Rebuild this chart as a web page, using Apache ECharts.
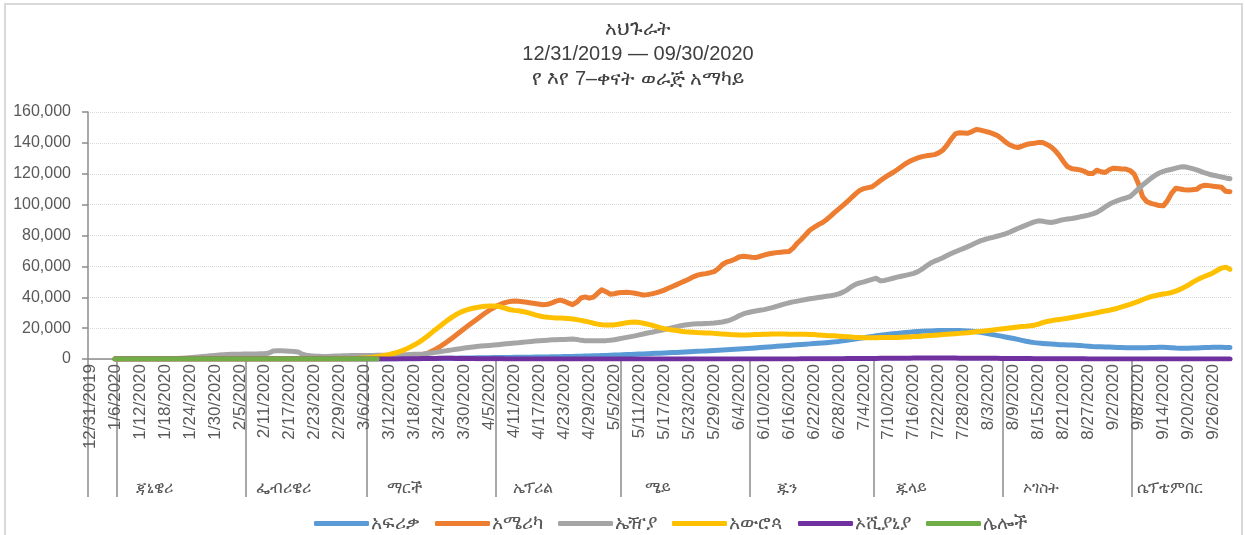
<!DOCTYPE html>
<html>
<head>
<meta charset="utf-8">
<title>አህጉራት</title>
<script src="https://cdn.jsdelivr.net/npm/echarts@6/dist/echarts.min.js"></script>
<style>
    html, body { margin: 0; padding: 0; background: #fff; }
    #chart { width: 1245px; height: 535px; }
</style>
</head>
<body>
<div id="chart"></div>
<script>
// categories: one per day, 12/31/2019 .. 9/30/2020 (plus the closing edge for the month band)
const firstDay = Date.UTC(2019, 11, 31);
const dayEdges = [];
for (let i = 0; i < 276; i++) {
    const d = new Date(firstDay + i * 86400000);
    dayEdges.push((d.getUTCMonth() + 1) + '/' + d.getUTCDate() + '/' + d.getUTCFullYear());
}
const days = dayEdges.slice(0, 275);

// month groups of the lower axis band
const monthNames = ['ጃኒዌሪ', 'ፌብሪዌሪ', 'ማርች', 'ኤፕሪል', 'ሜይ', 'ጁን', 'ጁላይ', 'ኦገስት', 'ሴፕቴምበር'];
const monthStarts = ['1/7/2020', '2/7/2020', '3/7/2020', '4/7/2020', '5/7/2020', '6/7/2020', '7/7/2020', '8/7/2020', '9/7/2020'];

const seriesNames = ['አፍሪቃ', 'አሜሪካ', 'ኤዥያ', 'አውሮጳ', 'ኦሺያኒያ', 'ሌሎች'];
const seriesColors = ['#5B9BD5', '#ED7D31', '#A5A5A5', '#FFC000', '#7030A0', '#70AD47'];

const yTicks = [0, 20000, 40000, 60000, 80000, 100000, 120000, 140000, 160000];

// 7-day averages, in thousands of cases, one value per day
const africa = [null,null,null,null,null,null,
    0,0,0,0,0,0,0,0,0,0,
    0,0,0,0,0,0,0,0,0,0,
    0,0,0,0,0,0,0,0,0,0,
    0,0,0,0,0,0,0,0,0,0,
    0,0,0,0,0,0,0,0,0,0,
    0,0,0,0,0,
    0.0,0.01,0.01,0.01,0.02,0.02,0.03,0.03,0.04,0.05,
    0.06,0.07,0.08,0.1,0.12,0.14,0.17,0.2,0.23,0.26,
    0.3,0.33,0.36,0.39,0.42,0.46,0.5,0.54,0.58,0.62,
    0.66,0.7,0.74,0.78,0.82,0.86,0.9,0.94,0.98,1.0,
    1.03,1.06,1.1,1.13,1.17,1.2,1.24,1.28,1.32,1.36,
    1.4,1.45,1.5,1.56,1.62,1.68,1.75,1.82,1.9,1.98,
    2.06,2.15,2.24,2.33,2.43,2.53,2.63,2.74,2.85,2.96,
    3.08,3.2,3.32,3.44,3.56,3.68,3.8,3.92,4.04,4.16,
    4.28,4.4,4.53,4.66,4.8,4.95,5.1,5.25,5.4,5.55,
    5.7,5.85,6.0,6.15,6.3,6.45,6.6,6.8,7.0,7.2,
    7.4,7.6,7.8,8.0,8.2,8.4,8.6,8.8,9.0,9.2,
    9.4,9.6,9.8,10.0,10.2,10.4,10.6,10.8,11.1,11.4,
    11.8,12.2,12.6,13.0,13.4,13.8,14.2,14.6,15.0,15.4,
    15.7,16.0,16.3,16.6,16.9,17.2,17.4,17.6,17.8,18.0,
    18.1,18.2,18.3,18.4,18.4,18.5,18.5,18.5,18.4,18.3,
    18.2,18.0,17.7,17.3,16.8,16.3,15.8,15.3,14.8,14.3,
    13.8,13.3,12.7,12.1,11.5,11.0,10.6,10.3,10.1,9.9,
    9.7,9.5,9.3,9.2,9.1,9.0,8.9,8.7,8.5,8.3,
    8.1,8.0,7.9,7.8,7.7,7.6,7.5,7.4,7.3,7.3,
    7.3,7.3,7.3,7.3,7.4,7.5,7.6,7.6,7.5,7.3,
    7.1,7.0,7.0,7.0,7.1,7.2,7.3,7.4,7.5,7.6,
    7.6,7.6,7.5,7.5];

const america = [null,null,null,null,null,null,
    0,0,0,0,0,0,0,0,0,0,
    0,0,0,0,0,0,0,0,0,0,
    0,0,0,0,0,0,0,0,0,0,
    0,0,0,0,0,0,0,0,0,0,
    0.01,0.01,0.01,0.01,0.01,0.01,0.01,0.01,0.01,0.01,
    0.01,0.01,0.01,0.01,0.01,
    0.02,0.02,0.03,0.04,0.05,0.07,0.09,0.12,0.16,0.22,
    0.3,0.4,0.5,0.6,0.8,1.0,1.3,1.7,2.1,2.7,
    3.6,4.8,6.2,7.8,9.6,11.5,13.5,15.6,17.7,19.8,
    21.8,23.8,25.8,27.8,29.8,31.6,33.2,34.6,35.8,36.7,
    37.3,37.6,37.4,37.1,36.7,36.3,35.9,35.5,35.1,35.4,
    36.3,37.5,38.1,37.4,36.2,35.2,36.8,39.5,40.2,39.4,
    40.1,42.5,44.9,43.6,42.0,42.3,42.9,43.1,43.2,43.0,
    42.6,42.0,41.5,41.7,42.2,42.8,43.6,44.6,45.8,47.0,
    48.2,49.4,50.6,51.9,53.2,54.3,54.9,55.3,55.9,56.6,
    58.5,61.2,62.8,63.6,64.6,66.1,66.6,66.3,65.9,65.7,
    66.4,67.3,68.0,68.5,68.9,69.2,69.4,69.6,71.8,75.0,
    77.6,80.5,83.4,85.2,86.9,88.2,90.2,92.5,95.0,97.3,
    99.5,101.9,104.5,107.0,109.2,110.4,111.0,111.6,113.5,115.6,
    117.5,119.2,120.8,122.6,124.5,126.5,128.0,129.2,130.3,131.1,
    131.6,132.0,132.4,133.5,135.3,138.5,142.5,145.8,146.6,146.4,
    146.2,147.3,148.6,148.3,147.6,146.9,146.0,144.9,143.0,140.6,
    138.8,137.6,137.0,137.8,138.9,139.4,139.7,140.3,140.2,139.0,
    137.4,135.0,131.8,127.8,124.5,123.3,122.9,122.5,121.6,120.2,
    120.1,122.3,121.3,120.8,122.6,123.6,123.4,123.1,123.0,122.1,
    119.8,113.5,105.2,102.0,100.8,100.2,99.4,99.2,102.6,107.5,
    110.6,110.1,109.6,109.5,109.7,109.9,111.8,112.6,112.3,111.9,
    111.6,111.2,108.6,108.4];

const asia = [null,null,null,null,null,null,
    0,0,0,0,0,0,0,0,0,0,
    0.02,0.04,0.08,0.14,0.22,0.33,0.47,0.65,0.87,1.1,
    1.35,1.6,1.85,2.1,2.35,2.55,2.75,2.9,3.0,3.1,
    3.15,3.2,3.2,3.25,3.3,3.35,3.4,3.9,5.2,5.4,
    5.3,5.2,5.1,4.9,4.6,3.1,2.5,2.1,1.9,1.8,
    1.7,1.7,1.8,1.9,2.0,2.1,2.1,2.2,2.2,2.2,
    2.3,2.3,2.3,2.4,2.4,2.4,2.5,2.5,2.6,2.7,
    2.8,2.9,3.0,3.1,3.3,3.6,3.9,4.3,4.7,5.1,
    5.5,5.9,6.3,6.7,7.1,7.5,7.8,8.1,8.4,8.6,
    8.8,9.0,9.3,9.6,9.9,10.1,10.3,10.5,10.8,11.1,
    11.4,11.6,11.8,12.0,12.2,12.4,12.5,12.6,12.7,12.8,
    12.9,12.7,12.1,11.8,11.8,11.8,11.9,11.9,11.9,12.1,
    12.5,13.0,13.5,14.0,14.5,15.0,15.6,16.2,16.8,17.3,
    17.9,18.5,19.1,19.7,20.3,20.9,21.5,22.0,22.4,22.6,
    22.8,22.9,23.0,23.1,23.3,23.6,24.0,24.6,25.4,26.6,
    28.0,29.2,30.0,30.6,31.1,31.6,32.0,32.6,33.3,34.1,
    34.9,35.7,36.4,37.0,37.5,38.0,38.5,39.0,39.4,39.8,
    40.2,40.6,41.0,41.5,42.2,43.3,44.8,46.8,48.3,49.3,
    50.0,50.8,51.6,52.3,50.6,50.9,51.6,52.3,53.0,53.6,
    54.2,54.8,55.5,56.6,58.2,60.2,62.0,63.4,64.4,65.6,
    67.0,68.3,69.5,70.6,71.7,72.8,74.0,75.3,76.5,77.4,
    78.1,78.8,79.5,80.2,81.1,82.1,83.3,84.5,85.6,86.7,
    87.8,88.8,89.5,89.3,88.7,88.4,88.9,89.7,90.3,90.7,
    91.0,91.5,92.1,92.6,93.2,94.0,95.0,96.6,98.5,100.2,
    101.5,102.6,103.5,104.3,105.2,107.6,110.2,112.6,114.8,117.0,
    118.9,120.5,121.5,122.3,122.9,123.6,124.3,124.5,124.0,123.3,
    122.5,121.5,120.5,119.7,119.0,118.5,117.9,117.3,116.8];

const europe = [null,null,null,null,null,null,
    0,0,0,0,0,0,0,0,0,0,
    0,0,0,0,0,0,0,0,0,0,
    0,0,0,0,0,0,0,0,0,0,
    0,0,0,0,0,0,0,0,0,0,
    0,0,0,0,0,0,0,0,0,0,
    0.02,0.04,0.06,0.09,0.13,0.18,0.24,0.31,0.4,0.5,
    0.65,0.85,1.1,1.45,1.9,2.4,3.0,3.7,4.5,5.4,
    6.5,7.8,9.2,10.8,12.6,14.6,16.8,19.0,21.1,23.2,
    25.2,27.1,28.8,30.2,31.3,32.2,32.9,33.4,33.8,34.1,
    34.3,34.4,34.2,33.5,32.7,31.9,31.5,31.2,30.8,30.2,
    29.4,28.6,27.9,27.4,27.0,26.8,26.6,26.5,26.4,26.2,
    25.9,25.5,25.0,24.5,23.9,23.2,22.6,22.2,22.0,22.0,
    22.1,22.5,23.0,23.5,23.8,23.9,23.7,23.2,22.6,21.9,
    21.1,20.3,19.7,19.2,18.8,18.4,18.0,17.7,17.5,17.3,
    17.1,17.0,16.9,16.8,16.6,16.4,16.2,16.0,15.8,15.7,
    15.6,15.6,15.6,15.7,15.8,15.9,16.0,16.1,16.2,16.2,
    16.2,16.2,16.1,16.1,16.0,16.0,16.0,15.9,15.8,15.6,
    15.4,15.2,15.1,15.0,14.8,14.6,14.4,14.2,14.0,13.9,
    13.8,13.8,13.8,13.8,13.9,13.9,14.0,14.0,14.0,14.1,
    14.2,14.3,14.5,14.6,14.8,15.0,15.2,15.4,15.6,15.8,
    16.0,16.2,16.4,16.6,16.8,17.0,17.3,17.6,17.9,18.2,
    18.5,18.8,19.2,19.5,19.8,20.1,20.4,20.7,21.0,21.2,
    21.5,21.9,22.6,23.6,24.3,24.8,25.2,25.6,26.0,26.4,
    26.9,27.4,27.9,28.4,28.9,29.4,30.0,30.6,31.1,31.6,
    32.2,32.9,33.7,34.6,35.4,36.3,37.3,38.4,39.5,40.4,
    41.0,41.6,42.1,42.5,43.1,44.0,45.1,46.4,47.9,49.6,
    51.1,52.5,53.6,54.6,55.9,57.5,58.9,59.5,58.1];

const oceania = [null,null,null,null,null,null,
    0,0,0,0,0,0,0,0,0,0,
    0,0,0,0,0,0,0,0,0,0,
    0,0,0,0,0,0,0,0,0,0,
    0,0,0,0,0,0,0,0,0,0,
    0,0,0,0,0,0,0,0,0,0,
    0,0,0,0,0,
    0,0,0.01,0.01,0.01,0.01,0.02,0.02,0.02,0.03,
    0.04,0.05,0.06,0.08,0.1,0.13,0.16,0.2,0.24,0.28,
    0.32,0.36,0.39,0.41,0.42,0.42,0.41,0.39,0.36,0.33,
    0.3,0.27,0.24,0.21,0.18,0.15,0.13,0.11,0.09,0.08,
    0.07,0.06,0.05,0.04,0.04,0.03,0.03,0.03,0.02,0.02,
    0.02,0.02,0.02,0.02,0.02,0.02,0.02,0.02,0.02,0.02,
    0.02,0.02,0.02,0.02,0.02,0.02,0.02,0.02,0.02,0.02,
    0.02,0.02,0.02,0.02,0.02,0.02,0.02,0.02,0.02,0.02,
    0.02,0.02,0.02,0.02,0.02,0.02,0.02,0.02,0.02,0.02,
    0.02,0.02,0.02,0.02,0.02,0.02,0.02,0.02,0.02,0.03,
    0.03,0.03,0.03,0.04,0.04,0.05,0.05,0.06,0.07,0.08,
    0.09,0.1,0.11,0.12,0.13,0.14,0.16,0.18,0.2,0.22,
    0.24,0.26,0.28,0.3,0.32,0.34,0.36,0.38,0.4,0.42,
    0.44,0.46,0.48,0.5,0.52,0.54,0.56,0.58,0.6,0.6,
    0.6,0.6,0.6,0.6,0.6,0.59,0.58,0.57,0.56,0.55,
    0.54,0.53,0.52,0.5,0.48,0.46,0.44,0.42,0.4,0.38,
    0.36,0.34,0.32,0.3,0.28,0.26,0.24,0.22,0.2,0.18,
    0.17,0.16,0.15,0.14,0.13,0.12,0.11,0.1,0.09,0.08,
    0.08,0.07,0.07,0.06,0.06,0.05,0.05,0.05,0.04,0.04,
    0.04,0.04,0.04,0.03,0.03,0.03,0.03,0.03,0.03,0.03,
    0.03,0.03,0.03,0.03,0.03,0.03,0.03,0.03,0.03,0.03,
    0.03,0.03,0.03,0.03];

// cruise-ship cases, reported only until early March
const others = [null,null,null,null,null,null,
    0,0,0,0,0,0,0,0,0,0,
    0,0,0,0,0,0,0,0,0,0,
    0,0,0,0,0,0,0,0,0,0,
    0.001,0.003,0.005,0.008,0.01,0.015,0.02,0.03,0.04,0.05,
    0.06,0.07,0.08,0.07,0.06,0.05,0.04,0.03,0.02,0.01,
    0.01,0.01,0.005,0.005,0.003,0.002,0.001,0.001,0.001,0.001,
    0.001,0,0,0];

const FONT = "'Liberation Sans', Arial, 'Noto Sans', sans-serif";
const GREY_TEXT = '#595959';
const AXIS_GREY = '#8C8C8C';

const toCases = arr => arr.map(v => (v === null ? null : Math.round(v * 1000)));
const allSeries = [africa, america, asia, europe, oceania, others];

const startIdx = monthStarts.map(s => dayEdges.indexOf(s));
const labelIdx = startIdx.map(i => i + 9);

const chart = echarts.init(document.getElementById('chart'), null, {renderer: 'canvas'});
chart.setOption({
    animation: false,
    backgroundColor: '#fff',
    textStyle: {fontFamily: FONT},
    graphic: [{
        type: 'rect',
        silent: true,
        z: -10,
        shape: {x: 5, y: 4, width: 1237, height: 545},
        style: {fill: 'none', stroke: '#D9D9D9', lineWidth: 2}
    }],
    title: {
        text: 'አህጉራት\n12/31/2019 — 09/30/2020\nየ እየ 7–ቀናት ወራጅ አማካይ',
        left: 633,
        textAlign: 'center',
        top: 12,
        textStyle: {
            fontFamily: FONT,
            fontSize: 20,
            lineHeight: 25,
            fontWeight: 'normal',
            color: '#404040'
        }
    },
    legend: {
        top: 509,
        left: 309,
        icon: 'roundRect',
        itemWidth: 55,
        itemHeight: 5,
        itemGap: 15,
        data: seriesNames,
        textStyle: {fontFamily: FONT, fontSize: 19, color: GREY_TEXT, padding: [0, 0, 0, -3]}
    },
    grid: {
        left: 88,
        right: 13,
        top: 112,
        bottom: 176,
        containLabel: false
    },
    xAxis: [{
        type: 'category',
        data: days,
        boundaryGap: true,
        axisLine: {lineStyle: {color: AXIS_GREY, width: 1.5}},
        axisTick: {show: false},
        axisLabel: {
            interval: 5,
            rotate: 90,
            margin: 5,
            fontFamily: FONT,
            fontSize: 17,
            color: GREY_TEXT
        },
        splitLine: {show: false}
    }, {
        type: 'category',
        data: dayEdges,
        boundaryGap: false,
        position: 'bottom',
        axisLine: {show: false},
        axisTick: {
            show: true,
            length: 138,
            interval: (i) => i === 0 || startIdx.indexOf(i) >= 0,
            lineStyle: {color: AXIS_GREY, width: 1.5}
        },
        axisLabel: {
            interval: (i) => labelIdx.indexOf(i) >= 0,
            formatter: (v, i) => monthNames[labelIdx.indexOf(i)] || '',
            margin: 122,
            fontFamily: FONT,
            fontSize: 16,
            color: GREY_TEXT
        },
        splitLine: {show: false}
    }],
    yAxis: {
        type: 'value',
        min: yTicks[0],
        max: yTicks[yTicks.length - 1],
        interval: yTicks[1] - yTicks[0],
        axisLine: {show: true, lineStyle: {color: AXIS_GREY, width: 1.5}},
        axisTick: {show: true, length: 6, lineStyle: {color: AXIS_GREY, width: 1.5}},
        axisLabel: {
            margin: 17,
            fontFamily: FONT,
            fontSize: 16,
            color: GREY_TEXT,
            formatter: v => v.toLocaleString('en-US')
        },
        splitLine: {lineStyle: {color: '#D9D9D9', type: 'dotted', width: 1}}
    },
    series: allSeries.map((arr, k) => ({
        name: seriesNames[k],
        type: 'line',
        xAxisIndex: 0,
        data: toCases(arr),
        showSymbol: false,
        symbol: 'none',
        color: seriesColors[k],
        lineStyle: {width: 5, color: seriesColors[k], cap: 'round', join: 'round'}
    }))
});
</script>
</body>
</html>
